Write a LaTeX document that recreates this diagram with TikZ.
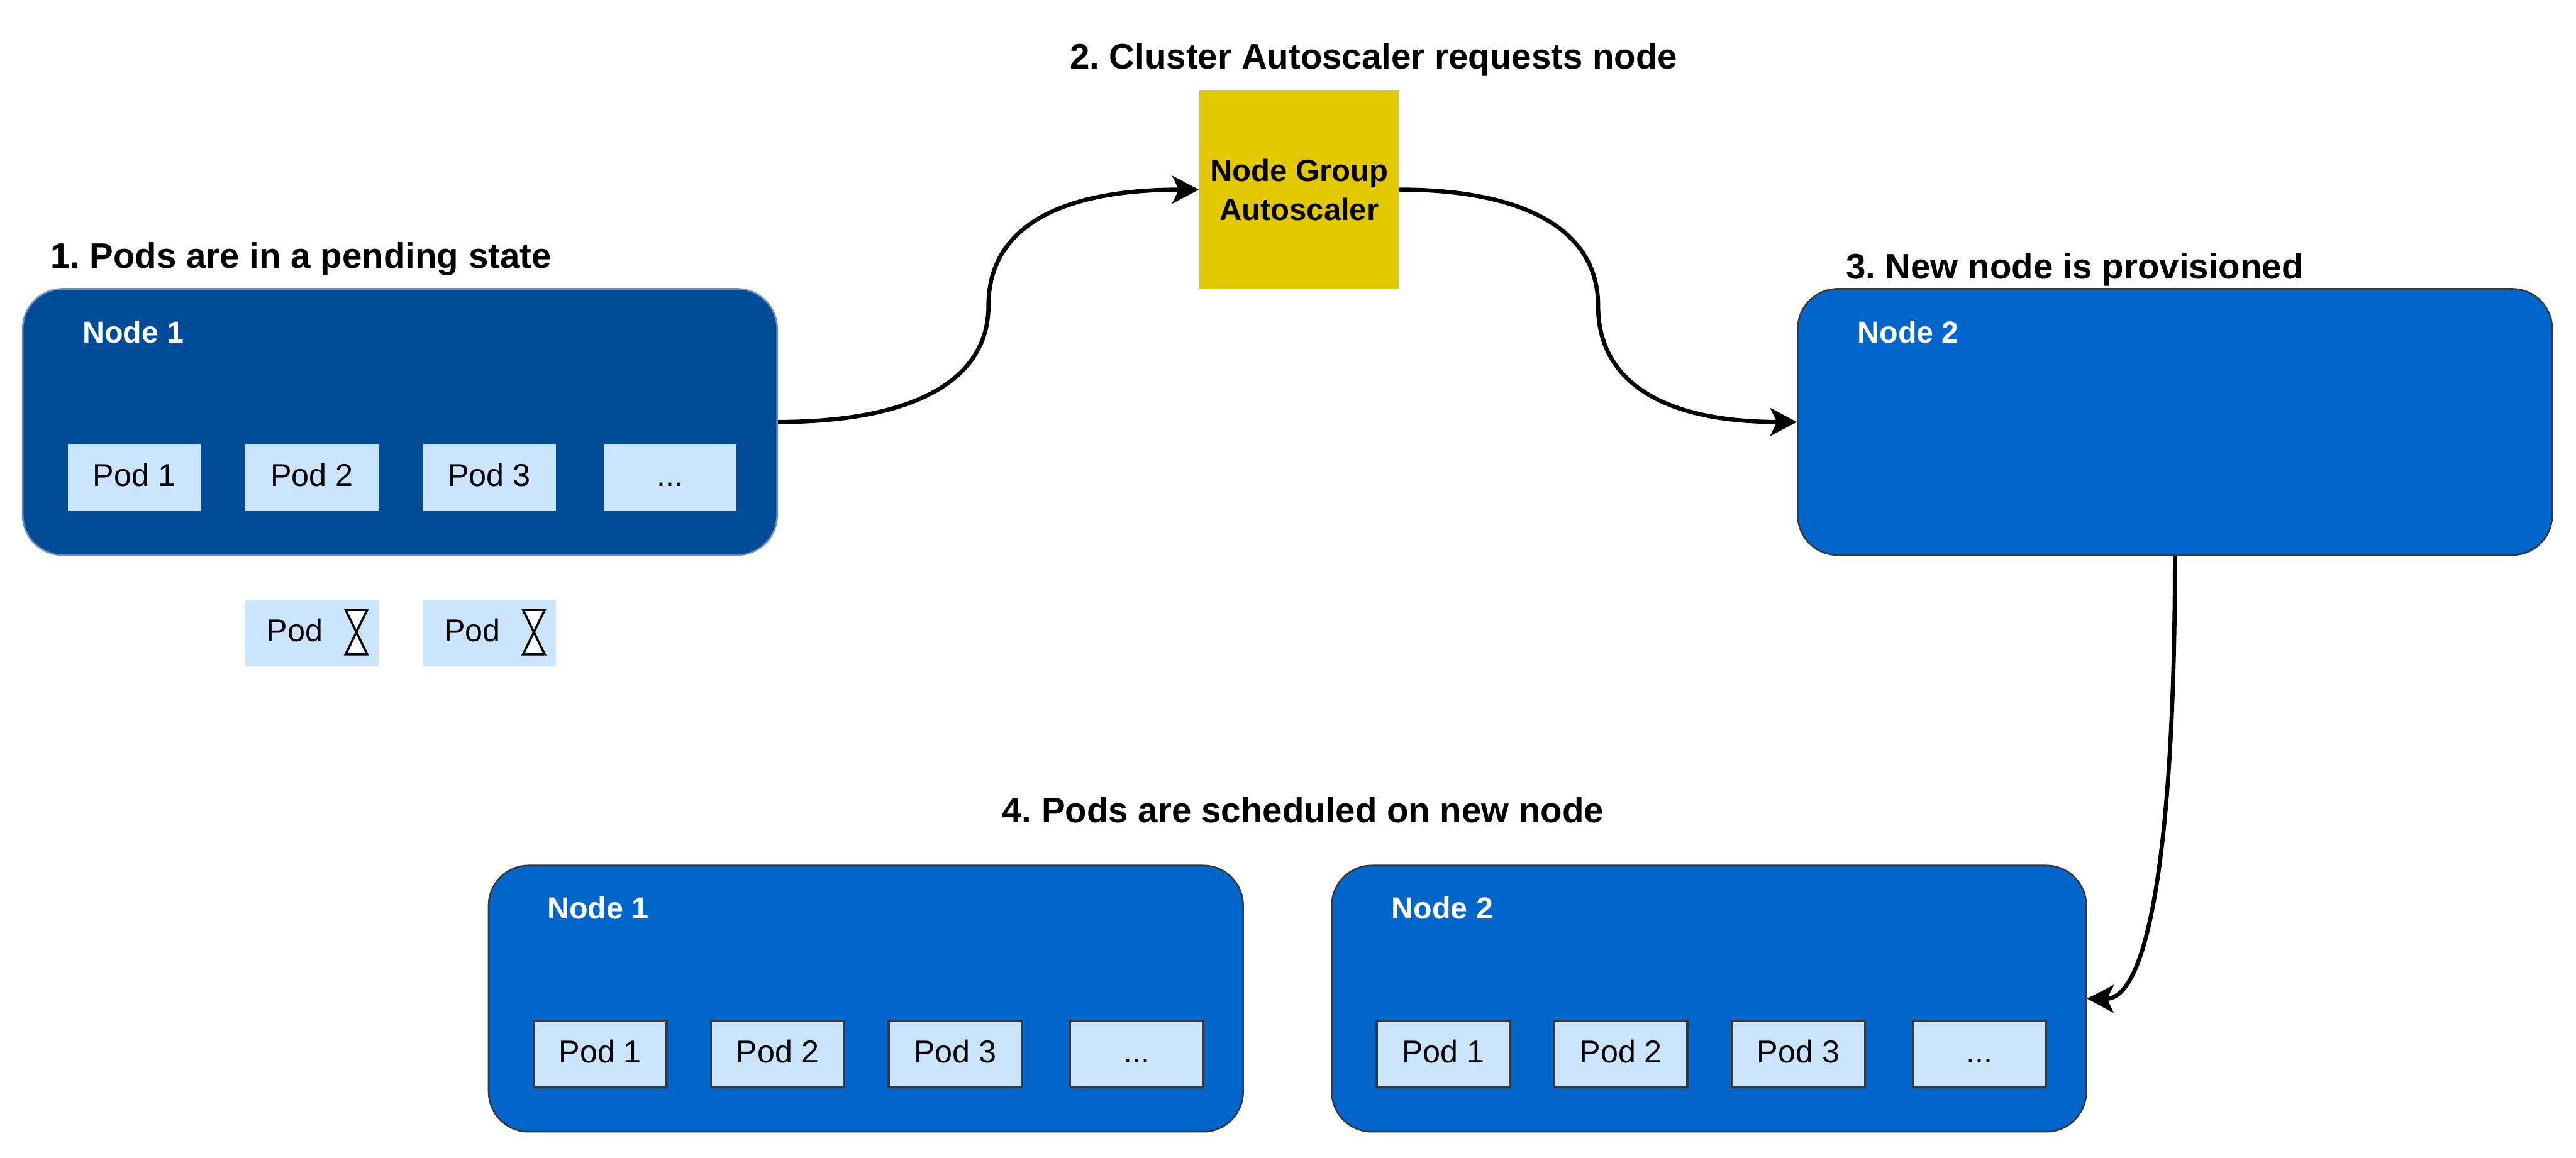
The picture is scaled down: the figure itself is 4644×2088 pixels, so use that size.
\documentclass[tikz,border=0pt]{standalone}
\usepackage{fontspec}
\setmainfont{Liberation Sans}
\usetikzlibrary{arrows.meta}
\definecolor{darknode}{HTML}{004C99}
\definecolor{darkline}{HTML}{6C8EBF}
\definecolor{bluenode}{HTML}{0066CC}
\definecolor{slateline}{HTML}{36393D}
\definecolor{podfill}{HTML}{CCE5FF}
\definecolor{yellowbox}{HTML}{E3C800}
\newlength{\rpx}\setlength{\rpx}{0.01cm}
\frenchspacing
\tikzset{
  x=0.01cm,y=-0.01cm,
  nodebox/.style={rounded corners=72\rpx,minimum width=1360\rpx,minimum height=480\rpx,inner sep=0pt,line width=3\rpx},
  nodeold/.style={nodebox,fill=darknode,draw=darkline},
  nodenew/.style={nodebox,fill=bluenode,draw=slateline},
  podplain/.style={fill=podfill,minimum width=240\rpx,minimum height=120\rpx,inner sep=0pt,font=\fontsize{16.2pt}{19pt}\selectfont,text=black,text height=8.7pt,text depth=0pt},
  podframed/.style={podplain,draw=slateline,line width=4\rpx},
  nodetitle/.style={anchor=base west,inner sep=0pt,text=white,font=\bfseries\fontsize{15.6pt}{18pt}\selectfont},
  steptitle/.style={anchor=base west,inner sep=0pt,text=black,font=\bfseries\fontsize{18.2pt}{21pt}\selectfont},
  podtext/.style={anchor=base west,inner sep=0pt,text=black,font=\fontsize{16.2pt}{19pt}\selectfont},
  hourglass/.style={draw=black,fill=white,line width=4\rpx,miter limit=10},
  link/.style={draw=black,line width=7.5\rpx,-{Stealth[length=0.48cm,width=0.5cm,inset=0.12cm]}},
}
\begin{document}
\begin{tikzpicture}
\useasboundingbox (0,0) rectangle (4644,2088);
% step titles
\node[steptitle] (t1) at (90,483) {1. Pods are in a pending state};
\node[steptitle] (t2) at (1928,124) {2. Cluster Autoscaler requests node};
\node[steptitle] (t3) at (3327,503) {3. New node is provisioned};
\node[steptitle] (t4) at (1806,1483) {4. Pods are scheduled on new node};
% node 1 (top left)
\node[nodeold] (a) at (721,761) {};
\node[nodetitle] (al) at (148,619) {Node 1};
\node[podplain] (a1) at (242,862) {Pod 1};
\node[podplain] (a2) at (562,862) {Pod 2};
\node[podplain] (a3) at (882,862) {Pod 3};
\node[podplain] (a4) at (1208,862) {...};
% pending pods
\node[podplain] (p1) at (562,1142) {};
\node[podtext] (p1l) at (480,1157) {Pod};
\draw[hourglass] (623,1100) -- (662,1100) -- (623,1180) -- (662,1180) -- cycle;
\node[podplain] (p2) at (882,1142) {};
\node[podtext] (p2l) at (800,1157) {Pod};
\draw[hourglass] (943,1100) -- (982,1100) -- (943,1180) -- (982,1180) -- cycle;
% autoscaler
\node[fill=yellowbox,minimum width=360\rpx,minimum height=360\rpx,inner sep=0pt,align=center,font=\bfseries\fontsize{15.8pt}{19.9pt}\selectfont] (g) at (2342,342) {Node Group\\Autoscaler};
% node 2 (top right)
\node[nodenew] (b) at (3921,761) {};
\node[nodetitle] (bl) at (3348,619) {Node 2};
% bottom nodes
\node[nodenew] (c) at (1561,1801) {};
\node[nodetitle] (cl) at (986,1657) {Node 1};
\node[podframed] (c1) at (1082,1901) {Pod 1};
\node[podframed] (c2) at (1402,1901) {Pod 2};
\node[podframed] (c3) at (1722,1901) {Pod 3};
\node[podframed] (c4) at (2049,1901) {...};
\node[nodenew] (d) at (3081,1801) {};
\node[nodetitle] (dl) at (2508,1657) {Node 2};
\node[podframed] (d1) at (2602,1901) {Pod 1};
\node[podframed] (d2) at (2922,1901) {Pod 2};
\node[podframed] (d3) at (3242,1901) {Pod 3};
\node[podframed] (d4) at (3569,1901) {...};
% connectors
\coordinate (m1) at (1782,551);
\coordinate (m2) at (2881,551);
\draw[link] (a.east) .. controls (1640,761) and (1782,690) .. (m1) .. controls (1782,410) and (1910,342) .. (g.west);
\draw[link] (g.east) .. controls (2740,342) and (2881,410) .. (m2) .. controls (2881,690) and (3000,761) .. (b.west);
\draw[link] (b.south) .. controls (3921,1480) and (3880,1802) .. (d.east);
\end{tikzpicture}
\end{document}
